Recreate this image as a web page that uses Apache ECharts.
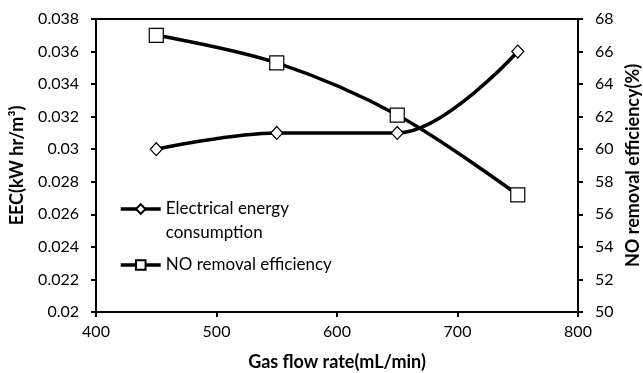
<!DOCTYPE html>
<html><head><meta charset="utf-8">
<script src="https://cdn.jsdelivr.net/npm/echarts@6/dist/echarts.min.js"></script>
<style>html,body{margin:0;padding:0;background:#fff}#c{width:643px;height:373px}</style>
</head><body><div id="c"></div>
<script>
const flowRates = [450, 550, 650, 750];
const eecValues = [0.030, 0.031, 0.031, 0.036];
const noRemoval = [67.0, 65.3, 62.1, 57.2];
const seriesNames = ['Electrical energy consumption', 'NO removal efficiency'];

const font = 'Lato';
const chart = echarts.init(document.getElementById('c'), null, {renderer: 'canvas'});
const axisLine = {show: true, onZero: false, lineStyle: {color: '#000', width: 2}};
const axisTick = {show: true, inside: false, length: 5, lineStyle: {color: '#000', width: 2}};
const nameStyle = {fontFamily: font, fontSize: 18, fontWeight: 'bold', color: '#000'};
chart.setOption({
  animation: false,
  backgroundColor: '#fff',
  grid: {left: 96, right: 65, top: 19, bottom: 61, containLabel: false, outerBoundsMode: 'none',
    show: true, borderColor: '#000', borderWidth: 2, backgroundColor: 'transparent'},
  legend: {
    orient: 'vertical', left: 114, top: 168, itemWidth: 40, itemHeight: 12, itemGap: 8,
    data: seriesNames,
    formatter: n => n === seriesNames[0] ? ' \nElectrical energy\nconsumption' : n,
    lineStyle: {width: 3.5, color: '#000'},
    textStyle: {fontFamily: font, fontSize: 17, color: '#000', lineHeight: 24}
  },
  xAxis: {
    type: 'value', min: 400, max: 800, interval: 100,
    name: 'Gas flow rate(mL/min)', nameLocation: 'middle', nameGap: 41,
    nameTextStyle: nameStyle,
    axisLine, axisTick, splitLine: {show: false},
    axisLabel: {fontFamily: font, fontSize: 16, color: '#000', margin: 12}
  },
  yAxis: [{
    type: 'value', min: 0.02, max: 0.038, interval: 0.002, position: 'left',
    name: 'EEC(kW hr/m³)', nameLocation: 'middle', nameGap: 70, nameRotate: 90,
    nameTextStyle: nameStyle,
    axisLine, axisTick, splitLine: {show: false},
    axisLabel: {fontFamily: font, fontSize: 16, color: '#000', margin: 17, formatter: v => String(+v.toFixed(3))}
  }, {
    type: 'value', min: 50, max: 68, interval: 2, position: 'right',
    name: 'NO removal efficiency(%)', nameLocation: 'middle', nameGap: 43, nameRotate: 90,
    nameTextStyle: nameStyle,
    axisLine, axisTick, splitLine: {show: false},
    axisLabel: {fontFamily: font, fontSize: 16, color: '#000', margin: 17}
  }],
  series: [{
    name: seriesNames[0], type: 'line', yAxisIndex: 0, smooth: 0.35,
    data: flowRates.map((x, i) => [x, eecValues[i]]),
    symbol: 'diamond', symbolSize: [12, 13],
    lineStyle: {color: '#000', width: 3.5},
    itemStyle: {color: '#fff', borderColor: '#000', borderWidth: 1.2}
  }, {
    name: seriesNames[1], type: 'line', yAxisIndex: 1, smooth: 0.35,
    data: flowRates.map((x, i) => [x, noRemoval[i]]),
    symbol: 'rect', symbolSize: 14,
    lineStyle: {color: '#000', width: 3.5},
    itemStyle: {color: '#fff', borderColor: '#000', borderWidth: 1.2}
  }]
});
</script></body></html>
